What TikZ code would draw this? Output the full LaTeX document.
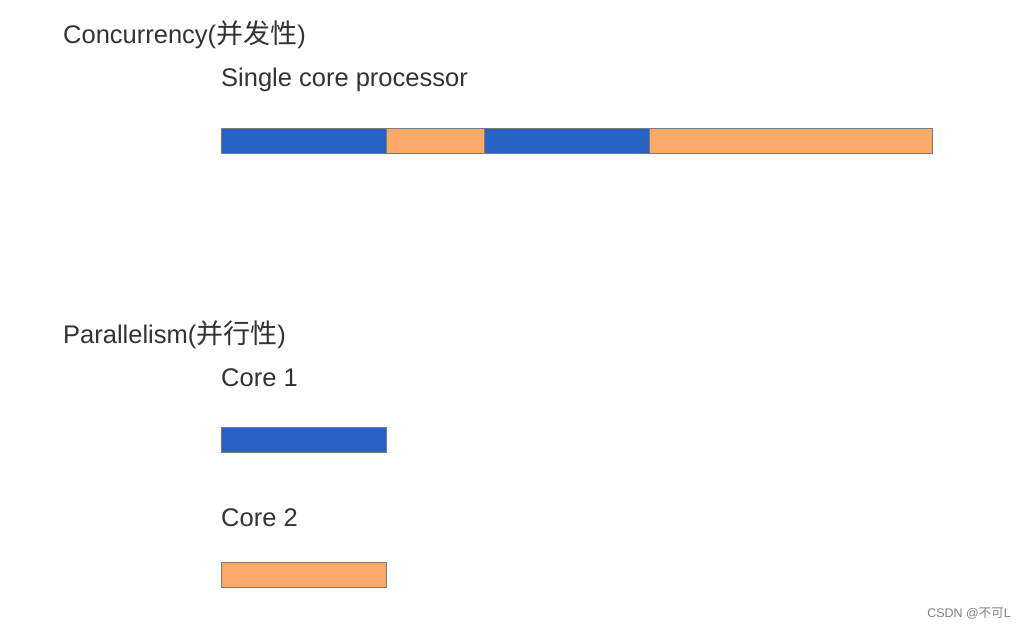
\documentclass[tikz,border=0pt]{standalone}
\usepackage{fontspec}
\setmainfont{Liberation Sans}
\newfontfamily\cjk{Noto Sans CJK SC}
\definecolor{cblue}{HTML}{2862C4}
\definecolor{corange}{HTML}{FDAA68}
\definecolor{txt}{HTML}{333333}
\definecolor{edge}{HTML}{7A7A7A}
\newcommand{\zh}[1]{{\cjk\fontsize{27}{30}\selectfont #1}}
\begin{document}
\begin{tikzpicture}[x=1pt,y=-1pt,
  lbl/.style={anchor=base west,inner sep=0pt,text=txt,font=\fontsize{25.5}{28}\selectfont},
  seg/.style={draw=edge,line width=0.8pt,inner sep=0pt,minimum height=25pt,anchor=north west},
  bseg/.style={seg,fill=cblue},
  oseg/.style={seg,fill=corange}]
\useasboundingbox[fill=white] (0,0) rectangle (1019,629);
\node[lbl] (conc) at (63,43) {Concurrency(\zh{并发性})};
\node[lbl] (single) at (221,86) {Single core processor};
\node[bseg,minimum width=165pt] (s1) at (221,128) {};
\node[oseg,minimum width=98pt] (s2) at (386,128) {};
\node[bseg,minimum width=165pt] (s3) at (484,128) {};
\node[oseg,minimum width=283pt] (s4) at (649,128) {};
\node[lbl] (par) at (63,343) {Parallelism(\zh{并行性})};
\node[lbl] (c1) at (221,386) {Core 1};
\node[bseg,minimum width=165pt] (b1) at (221,427) {};
\node[lbl] (c2) at (221,526) {Core 2};
\node[oseg,minimum width=165pt] (b2) at (221,562) {};
\node[anchor=base east,inner sep=0pt,text=gray,font=\fontsize{12.5}{14}\selectfont] (wm) at (1011,617) {CSDN @{\cjk 不可}L};
\end{tikzpicture}
\end{document}
